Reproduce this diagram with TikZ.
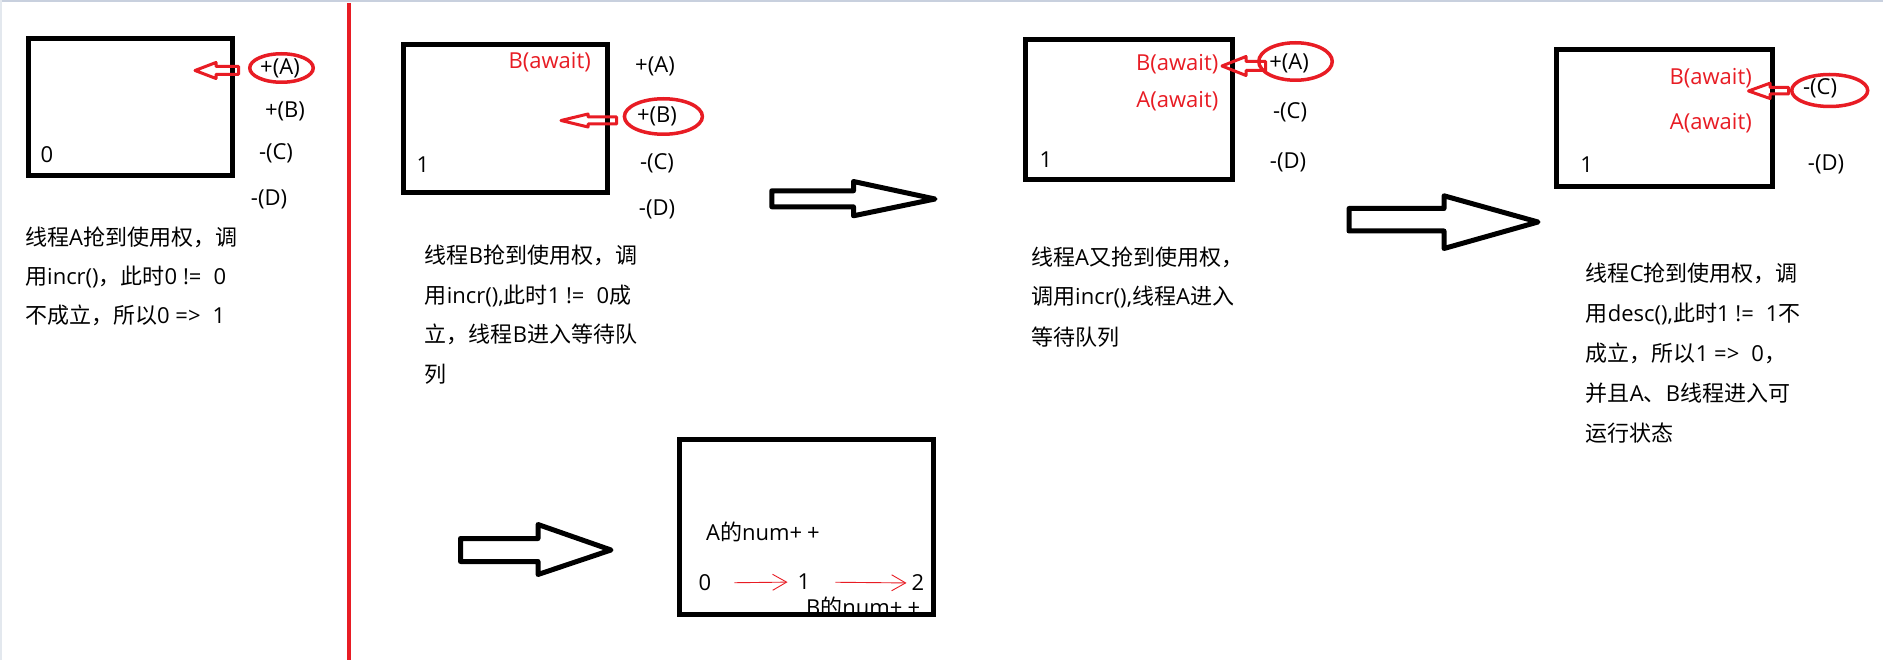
\documentclass[tikz,border=0pt]{standalone}
\usepackage{fontspec}
\setmainfont{Open Sans}
\newfontfamily\cjk{Noto Sans CJK SC}
\newcommand{\zh}[1]{{\cjk #1}}
\newcommand{\wsp}{\hspace{0.55em}}
\usetikzlibrary{shapes.geometric,arrows.meta}
\definecolor{mred}{RGB}{232,28,36}
\definecolor{topgray}{RGB}{200,208,222}
\begin{document}
\begin{tikzpicture}[x=1pt,y=-1pt,
  box/.style={draw, line width=5pt, rectangle, inner sep=0},
  lbl/.style={font=\fontsize{22}{26}\selectfont, inner sep=0},
  txt/.style={font=\fontsize{22}{26}\selectfont, inner sep=0, anchor=base west},
  waitlbl/.style={lbl, text=mred, anchor=east},
  ring/.style={draw=mred, line width=3.5pt, ellipse, inner sep=0},
  redarrow/.style={draw=mred, line width=3pt, line join=round},
  bigarrow/.style={draw=black, line width=5pt, line join=round},
  thinarrow/.style={draw=mred, line width=0.9pt, -{Straight Barb[length=14pt,width=16pt,line width=0.9pt]}}]
\fill[white] (0,0) rectangle (1883,660);
\fill[topgray] (0,0) rectangle (1883,2);
\fill[topgray!50] (0,0) rectangle (1.5,660);
\useasboundingbox (0,0) rectangle (1883,660);
% separator
\draw[mred, line width=4pt] (349,3) -- (349,660);
% ---------- panel 1
\node[box, minimum width=204pt, minimum height=137pt] (b1) at (130,107.5) {};
\node[lbl] (v1) at (47,155) {0};
\node[lbl] (p1a) at (280,68) {+(A)};
\node[lbl] (p1b) at (285,111) {+(B)};
\node[lbl] (p1c) at (276,153) {-(C)};
\node[lbl] (p1d) at (269,199) {-(D)};
\node[ring, minimum width=63.5pt, minimum height=28.5pt] (r1) at (281.5,68) {};
\draw[redarrow] (195,70.5) -- (216,62.5) -- (216,66.5) -- (238.5,66.5) -- (238.5,74.5) -- (216,74.5) -- (216,78.5) -- cycle;
\node[txt] (t1a) at (25,246) {\zh{线程}A\zh{抢到使用权，调}};
\node[txt] (t1b) at (25,285) {\zh{用}incr()\zh{，此时}0 !=\wsp0};
\node[txt] (t1c) at (25,324) {\zh{不成立，所以}0 =>\wsp1};
% ---------- panel 2
\node[box, minimum width=204.3pt, minimum height=148.3pt] (b2) at (505.3,118.3) {};
\node[waitlbl] (w2b) at (591,62) {B(await)};
\node[lbl] (v2) at (423,165) {1};
\node[lbl] (p2a) at (655,66) {+(A)};
\node[lbl] (p2b) at (657,116) {+(B)};
\node[lbl] (p2c) at (657,163) {-(C)};
\node[lbl] (p2d) at (657,209) {-(D)};
\node[ring, minimum width=78pt, minimum height=35.5pt] (r2) at (663.4,116.5) {};
\draw[redarrow] (561,120.5) -- (588,114) -- (588,117) -- (616.5,117) -- (616.5,124) -- (588,124) -- (588,127) -- cycle;
\node[txt] (t2a) at (424.7,264) {\zh{线程}B\zh{抢到使用权，调}};
\node[txt] (t2b) at (424.7,304) {\zh{用}incr(),\zh{此时}1 !=\wsp0\zh{成}};
\node[txt] (t2c) at (424.7,343) {\zh{立，线程}B\zh{进入等待队}};
\node[txt] (t2d) at (424.7,383) {\zh{列}};
% ---------- panel 3
\node[box, minimum width=207.3pt, minimum height=140.3pt] (b3) at (1128.8,109.3) {};
\node[waitlbl] (w3b) at (1218.5,64) {B(await)};
\node[waitlbl] (w3a) at (1218.5,101) {A(await)};
\node[lbl] (v3) at (1046,160) {1};
\node[lbl] (p3a) at (1289,63) {+(A)};
\node[lbl] (p3c) at (1290,112) {-(C)};
\node[lbl] (p3d) at (1288,162) {-(D)};
\node[ring, minimum width=73.5pt, minimum height=37.5pt] (r3) at (1295.5,61.5) {};
\draw[redarrow] (1222,66) -- (1246,56.5) -- (1246,61.5) -- (1265.5,61.5) -- (1265.5,70.5) -- (1246,70.5) -- (1246,75.5) -- cycle;
\node[txt] (t3a) at (1031,266) {\zh{线程}A\zh{又抢到使用权，}};
\node[txt] (t3b) at (1031,305) {\zh{调用}incr(),\zh{线程}A\zh{进入}};
\node[txt] (t3c) at (1031,345) {\zh{等待队列}};
% ---------- panel 4
\node[box, minimum width=215.7pt, minimum height=137pt] (b4) at (1664.7,118.3) {};
\node[waitlbl] (w4b) at (1752,78.3) {B(await)};
\node[waitlbl] (w4a) at (1752,123.3) {A(await)};
\node[lbl] (v4) at (1586.7,164.3) {1};
\node[lbl] (p4c) at (1820,88.3) {-(C)};
\node[lbl] (p4d) at (1826,164.3) {-(D)};
\node[ring, minimum width=76pt, minimum height=32pt] (r4) at (1829.7,90.5) {};
\draw[redarrow] (1748.5,91) -- (1770,83.2) -- (1770,87.5) -- (1788.5,87.5) -- (1788.5,94) -- (1770,94) -- (1770,98.5) -- cycle;
\node[txt] (t4a) at (1585.7,281.3) {\zh{线程}C\zh{抢到使用权，调}};
\node[txt] (t4b) at (1585.7,321.3) {\zh{用}desc(),\zh{此时}1 !=\wsp1\zh{不}};
\node[txt] (t4c) at (1585.7,361.3) {\zh{成立，所以}1 =>\wsp0\zh{，}};
\node[txt] (t4d) at (1585.7,401.3) {\zh{并且}A\zh{、}B\zh{线程进入可}};
\node[txt] (t4e) at (1585.7,441.3) {\zh{运行状态}};
% ---------- big hollow arrows
\draw[bigarrow] (771.8,190.8) -- (853.5,190.8) -- (853.5,181.5) -- (935,199) -- (853.5,215.8) -- (853.5,206.8) -- (771.8,206.8) -- cycle;
\draw[bigarrow] (1349,208.5) -- (1444,208.5) -- (1444,195.8) -- (1538,222) -- (1444,248.5) -- (1444,231) -- (1349,231) -- cycle;
\draw[bigarrow] (460.5,538.5) -- (538,538.5) -- (538,524.5) -- (611,550) -- (538,574.5) -- (538,561.5) -- (460.5,561.5) -- cycle;
% ---------- bottom box
\node[lbl, anchor=west] (na) at (706,532) {A\zh{的}num+\kern5pt+};
\node[lbl] (n0) at (705,583) {0};
\node[lbl] (n1) at (804,582) {1};
\node[lbl] (n2) at (918,583) {2};
\node[lbl, anchor=west] (nb) at (806,607) {B\zh{的}num+\kern5pt+};
\draw[thinarrow, shorten <=23pt, shorten >=10pt] (n0.east) -- (n1.west);
\draw[thinarrow, shorten <=25pt, shorten >=5pt] (n1.east) -- (n2.west);
\node[box, minimum width=254pt, minimum height=175pt] (b5) at (806.5,527) {};
\end{tikzpicture}
\end{document}
